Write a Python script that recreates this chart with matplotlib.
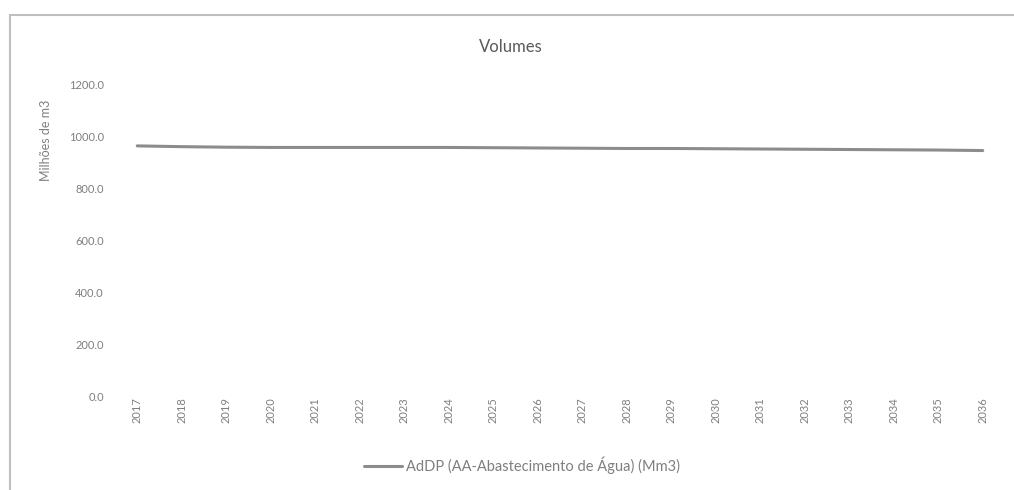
import matplotlib.pyplot as plt
from matplotlib.patches import Rectangle

# data
years = [str(y) for y in range(2017, 2037)]
volumes = [962, 959, 957, 956, 956, 956, 956, 956, 955, 954,
           953, 952, 952, 951, 950, 949, 948, 947, 946, 944]
y_ticks = [0, 200, 400, 600, 800, 1000, 1200]

series_label = "AdDP (AA-Abastecimento de Água) (Mm3)"
title = "Volumes"
y_label = "Milhões de m3"

plt.rcParams['font.family'] = ['Lato', 'DejaVu Sans']
text_grey = '#7f7f7f'

fig = plt.figure(figsize=(10.14, 4.90), dpi=100)
ax = fig.add_axes([115 / 1014, 94 / 490, 890 / 1014, 312 / 490])

x = list(range(len(years)))
ax.plot(x, volumes, color='#8c8c8c', linewidth=2.2, label=series_label,
        solid_capstyle='round')

ax.set_xlim(-0.5, len(years) - 0.5)
ax.set_ylim(0, 1200)
ax.set_yticks(y_ticks)
ax.set_yticklabels([f"{v:.1f}" for v in y_ticks], color=text_grey, fontsize=8)
ax.set_xticks(x)
ax.set_xticklabels(years, rotation=90, color=text_grey, fontsize=8)
ax.tick_params(axis='y', length=0, pad=8)
ax.tick_params(axis='x', length=0, pad=1)
for side in ax.spines.values():
    side.set_visible(False)

ax.set_ylabel(y_label, color=text_grey, fontsize=9)
ax.yaxis.set_label_coords(-0.071, 0.82)
fig.text(0.504, 0.905, title, ha='center', va='center', color='#595959', fontsize=12)

ax.legend(loc='center', bbox_to_anchor=(0.457, -0.221), frameon=False,
          fontsize=10.5, labelcolor=text_grey, handlelength=2.6, handletextpad=0.3)

# outer chart frame (right and bottom edges fall outside the picture)
fig.patches.append(Rectangle((10 / 1014, -10 / 490), 1020 / 1014, 485 / 490,
                             transform=fig.transFigure, fill=False,
                             edgecolor='#bfbfbf', linewidth=1.5))

fig.savefig('out.png', dpi=100)
